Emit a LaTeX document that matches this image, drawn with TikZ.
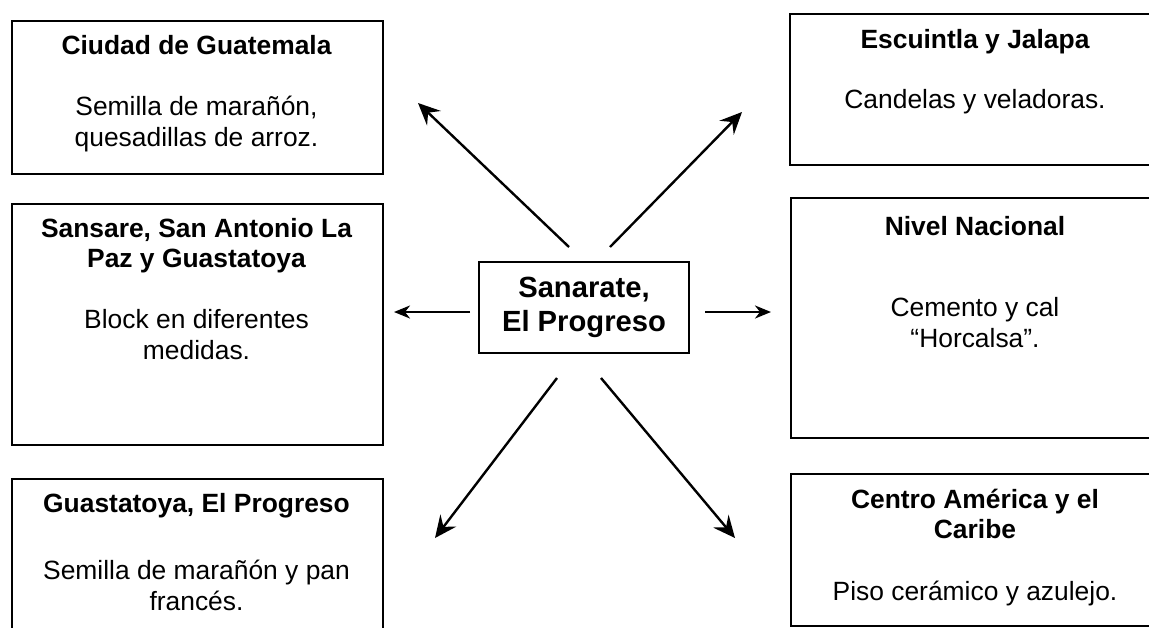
\documentclass[tikz,border=0pt]{standalone}
\usepackage{fontspec}
\setmainfont{Liberation Sans}
\usetikzlibrary{positioning}
\usetikzlibrary{arrows.meta}

\begin{document}
\begin{tikzpicture}[x=0.5pt,y=-0.5pt,
        caja/.style={draw,line width=1pt,inner sep=0pt,anchor=north west},
        titulo/.style={font=\fontsize{13.2}{15}\selectfont\bfseries,
                        align=center,anchor=base,inner sep=0pt},
        texto/.style={font=\fontsize{13.2}{15.5}\selectfont,
                        align=center,anchor=base,inner sep=0pt},
        flecha/.style={line width=1.2pt,
                        -{Stealth[length=11pt,width=10pt,inset=4pt]}},
        flechita/.style={line width=1.2pt,
                        -{Stealth[length=8pt,width=6.5pt,inset=2.5pt]}}]

    \useasboundingbox (0,0) rectangle (1149,627);
    \clip (0,0) rectangle (1149,627);

    %central box
    \node[draw,line width=1pt,minimum width=105pt,minimum height=45.5pt,
          align=center,font=\fontsize{14.6}{17}\selectfont\bfseries]
          (centro) at (584,307.5) {Sanarate,\\El Progreso};

    %left column (base = last line)
    \node[caja,minimum width=185.5pt,minimum height=76.5pt] (ciudad) at (11,20) {};
    \node[titulo] (ciudadT) at (196.5,54) {Ciudad de Guatemala};
    \node[texto] (ciudadB) at (196.5,146) {Semilla de marañón,\\quesadillas de arroz.};

    \node[caja,minimum width=185.5pt,minimum height=120.5pt] (sansare) at (11,203) {};
    \node[titulo] (sansareT) at (196.5,267) {Sansare, San Antonio La\\Paz y Guastatoya};
    \node[texto] (sansareB) at (196.5,359) {Block en diferentes\\medidas.};

    \node[caja,minimum width=185.5pt,minimum height=81pt] (guasta) at (11,478) {};
    \node[titulo] (guastaT) at (196.5,512) {Guastatoya, El Progreso};
    \node[texto] (guastaB) at (196.5,610) {Semilla de marañón y pan\\francés.};

    %right column (cut by the page edge)
    \node[caja,minimum width=185.5pt,minimum height=75.5pt] (escuintla) at (789,13) {};
    \node[titulo] (escuintlaT) at (975,48) {Escuintla y Jalapa};
    \node[texto] (escuintlaB) at (975,108) {Candelas y veladoras.};

    \node[caja,minimum width=185pt,minimum height=120pt] (nivel) at (790,197) {};
    \node[titulo] (nivelT) at (975,235) {Nivel Nacional};
    \node[texto] (nivelB) at (975,347) {Cemento y cal\\“Horcalsa”.};

    \node[caja,minimum width=185pt,minimum height=76pt] (centroam) at (790,473) {};
    \node[titulo] (centroamT) at (975,538) {Centro América y el\\Caribe};
    \node[texto] (centroamB) at (975,600) {Piso cerámico y azulejo.};

    %arrow ends
    \coordinate (s1) at (569,247); \coordinate (p1) at (418,103);
    \coordinate (s2) at (610,247); \coordinate (p2) at (742,112);
    \coordinate (s3) at (557,378); \coordinate (p3) at (435,538);
    \coordinate (s4) at (601,378); \coordinate (p4) at (735,538);
    \coordinate (s5) at (470,312); \coordinate (p5) at (394,312);
    \coordinate (s6) at (705,312); \coordinate (p6) at (771,312);

    \foreach \i in {1,...,4}
        \draw[flecha] (s\i) -- (p\i);
    \draw[flechita] (s5) -- (p5);
    \draw[flechita] (s6) -- (p6);

\end{tikzpicture}
\end{document}
